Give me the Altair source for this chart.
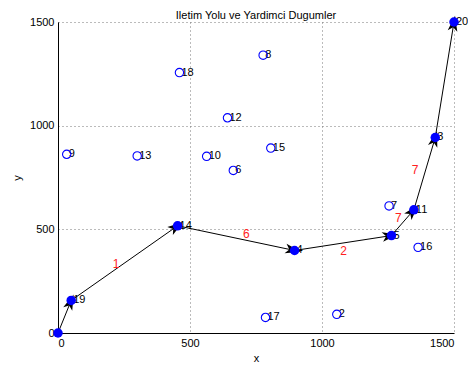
import math
import altair as alt
import pandas as pd

# ---- data ----
path_ids = [1, 19, 14, 4, 5, 11, 3, 20]
path_x = [0, 50, 453, 896, 1263, 1348, 1429, 1500]
path_y = [0, 157, 517, 398, 470, 594, 943, 1500]

aux_ids = [9, 13, 18, 12, 10, 6, 8, 15, 7, 16, 17, 2]
aux_x = [33, 300, 460, 642, 563, 664, 777, 806, 1254, 1364, 786, 1056]
aux_y = [862, 854, 1256, 1038, 852, 784, 1340, 892, 613, 413, 75, 90]

weight_text = ["1", "6", "2", "7", "7"]
weight_x = [220, 713, 1082, 1289, 1353]
weight_y = [333, 476, 395, 557, 786]

W, H = 396, 311
FONT = "Liberation Sans"

# ---- tables ----
nodes_path = pd.DataFrame({"id": path_ids, "x": path_x, "y": path_y})
nodes_path_lbl = nodes_path[nodes_path["id"] != 1].copy()
nodes_path_lbl["label"] = nodes_path_lbl["id"].astype(str)
nodes_aux = pd.DataFrame({"id": aux_ids, "x": aux_x, "y": aux_y})
nodes_aux["label"] = nodes_aux["id"].astype(str)

sx, sy = W / 1500.0, H / 1500.0
rows = []
for i in range(len(path_x) - 1):
    x1, y1, x2, y2 = path_x[i], path_y[i], path_x[i + 1], path_y[i + 1]
    dxp = (x2 - x1) * sx
    dyp = -(y2 - y1) * sy
    ang = math.degrees(math.atan2(dxp, -dyp)) % 360
    rows.append({"x": x1, "y": y1, "x2": x2, "y2": y2, "angle": ang})
edges = pd.DataFrame(rows)
weights = pd.DataFrame({"t": weight_text, "x": weight_x, "y": weight_y})

xs = alt.Scale(domain=[0, 1500], nice=False, zero=False)
ys = alt.Scale(domain=[0, 1500], nice=False, zero=False)

xaxis = alt.Axis(values=[0, 500, 1000, 1500], format="d", title="x", titleY=19, grid=True)
yaxis = alt.Axis(values=[0, 500, 1000, 1500], format="d", title="y", titleX=-36, grid=True)

lines = alt.Chart(edges).mark_rule(color="black", strokeWidth=1).encode(
    x=alt.X("x:Q", scale=xs, axis=xaxis),
    y=alt.Y("y:Q", scale=ys, axis=yaxis),
    x2="x2:Q",
    y2="y2:Q",
)

arrow_shape = "M0,-0.5 L0.38,0.72 L0,0.42 L-0.38,0.72 Z"
heads = alt.Chart(edges).mark_point(
    shape=arrow_shape, filled=True, color="black", size=650, opacity=1
).encode(
    x=alt.X("x2:Q", scale=xs),
    y=alt.Y("y2:Q", scale=ys),
    angle=alt.Angle("angle:Q", scale=None),
)

lbl_style = dict(align="left", baseline="middle", dx=2, font=FONT, fontSize=11, color="black")
aux_text = alt.Chart(nodes_aux).mark_text(**lbl_style).encode(
    x=alt.X("x:Q", scale=xs), y=alt.Y("y:Q", scale=ys), text="label:N"
)
path_text = alt.Chart(nodes_path_lbl).mark_text(**lbl_style).encode(
    x=alt.X("x:Q", scale=xs), y=alt.Y("y:Q", scale=ys), text="label:N"
)

aux_pts = alt.Chart(nodes_aux).mark_point(
    shape="circle", filled=False, color="#0000ff", size=70, strokeWidth=1.1, opacity=1
).encode(x=alt.X("x:Q", scale=xs), y=alt.Y("y:Q", scale=ys))

path_pts = alt.Chart(nodes_path).mark_point(
    shape="circle", filled=True, color="#0000ff", size=90, opacity=1
).encode(x=alt.X("x:Q", scale=xs), y=alt.Y("y:Q", scale=ys))

wt = alt.Chart(weights).mark_text(
    align="center", baseline="middle", font=FONT, fontSize=12, color="#ff2020"
).encode(x=alt.X("x:Q", scale=xs), y=alt.Y("y:Q", scale=ys), text="t:N")

chart = alt.layer(lines, heads, aux_text, path_text, aux_pts, path_pts, wt).properties(
    width=W,
    height=H,
    autosize=alt.AutoSizeParams(type="none"),
    padding={"left": 50, "top": 14, "right": 14, "bottom": 30},
    title=alt.TitleParams(
        "Iletim Yolu ve Yardimci Dugumler", font=FONT, fontSize=11,
        fontWeight="normal", color="black", offset=1, dy=6,
    ),
).configure_view(stroke=None).configure_axis(
    labelFont=FONT, labelFontSize=11, labelColor="black", labelPadding=4,
    titleFont=FONT, titleFontSize=11, titleFontWeight="normal", titleColor="black",
    domainColor="black", domainWidth=1, ticks=False,
    gridColor="#777777", gridDash=[1, 3], gridWidth=1, gridOpacity=1,
)

chart.save("out.html", embed_options={"renderer": "svg", "actions": False})
